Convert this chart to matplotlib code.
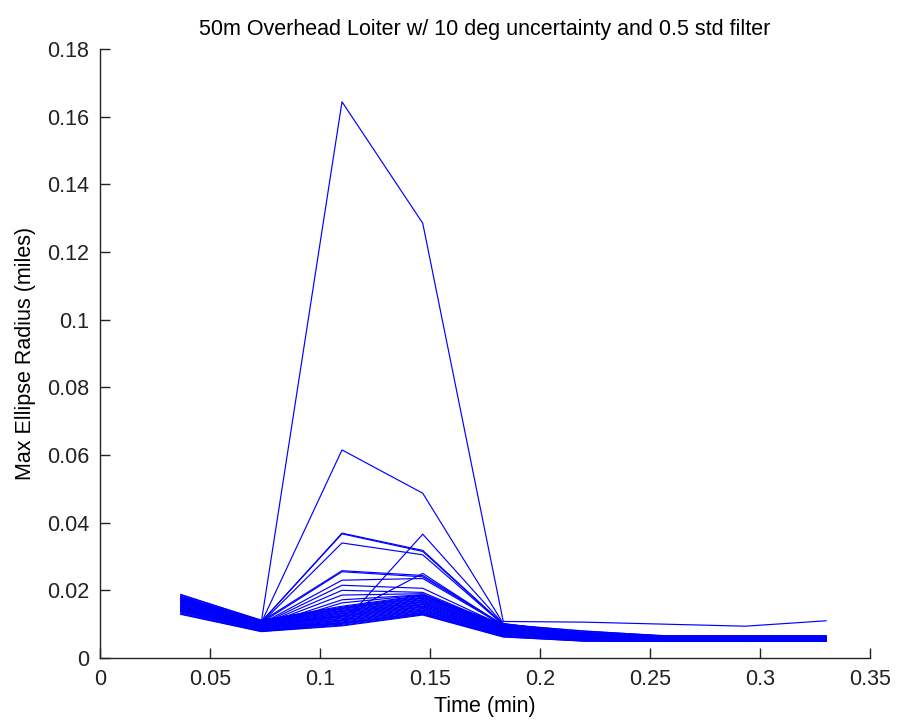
# Max ellipse radius vs time, 50m overhead loiter

import matplotlib.pyplot as plt

plt.rcParams['font.family'] = ['Liberation Sans', 'DejaVu Sans']

# sample times (min)
t = [0.0367, 0.0733, 0.11, 0.1467, 0.1833, 0.22, 0.2567, 0.2933, 0.33]

# runs that stick out above the main bundle
outliers = [
    [0.0150, 0.0105, 0.1644, 0.1285, 0.0108, 0.0106, 0.0100, 0.0094, 0.0110],
    [0.0162, 0.0104, 0.0615, 0.0487, 0.0102, 0.0072, 0.0062, 0.0062, 0.0062],
    [0.0172, 0.0106, 0.0369, 0.0318, 0.0100, 0.0070, 0.0061, 0.0061, 0.0061],
    [0.0175, 0.0107, 0.0367, 0.0315, 0.0099, 0.0069, 0.0060, 0.0060, 0.0060],
    [0.0168, 0.0103, 0.0340, 0.0305, 0.0098, 0.0070, 0.0061, 0.0061, 0.0061],
    [0.0146, 0.0096, 0.0100, 0.0366, 0.0101, 0.0072, 0.0062, 0.0062, 0.0062],
    [0.0140, 0.0098, 0.0125, 0.0250, 0.0096, 0.0068, 0.0060, 0.0060, 0.0060],
    [0.0178, 0.0108, 0.0258, 0.0244, 0.0098, 0.0071, 0.0062, 0.0062, 0.0062],
    [0.0170, 0.0104, 0.0255, 0.0240, 0.0097, 0.0069, 0.0061, 0.0061, 0.0061],
    [0.0165, 0.0101, 0.0230, 0.0235, 0.0096, 0.0068, 0.0060, 0.0060, 0.0060],
    [0.0160, 0.0099, 0.0215, 0.0206, 0.0095, 0.0067, 0.0059, 0.0059, 0.0059],
    [0.0155, 0.0097, 0.0200, 0.0194, 0.0094, 0.0066, 0.0058, 0.0058, 0.0058],
    [0.0150, 0.0095, 0.0186, 0.0190, 0.0093, 0.0066, 0.0058, 0.0058, 0.0058],
    [0.0145, 0.0093, 0.0172, 0.0187, 0.0092, 0.0065, 0.0057, 0.0057, 0.0057],
    [0.0139, 0.0090, 0.0163, 0.0186, 0.0090, 0.0064, 0.0056, 0.0056, 0.0056],
]

# the dense bundle of runs
band = [
    [0.0188, 0.0111, 0.0153, 0.0185, 0.0100, 0.0079, 0.0066, 0.0066, 0.0066],
    [0.0186, 0.0112, 0.0150, 0.0183, 0.0098, 0.0080, 0.0065, 0.0065, 0.0065],
    [0.0183, 0.0109, 0.0148, 0.0180, 0.0097, 0.0076, 0.0065, 0.0064, 0.0065],
    [0.0181, 0.0108, 0.0146, 0.0178, 0.0095, 0.0075, 0.0064, 0.0064, 0.0064],
    [0.0179, 0.0106, 0.0144, 0.0176, 0.0094, 0.0073, 0.0063, 0.0063, 0.0063],
    [0.0176, 0.0105, 0.0141, 0.0173, 0.0092, 0.0072, 0.0062, 0.0062, 0.0063],
    [0.0174, 0.0104, 0.0139, 0.0171, 0.0091, 0.0070, 0.0062, 0.0061, 0.0062],
    [0.0171, 0.0102, 0.0137, 0.0168, 0.0089, 0.0069, 0.0061, 0.0061, 0.0061],
    [0.0169, 0.0101, 0.0134, 0.0166, 0.0088, 0.0067, 0.0060, 0.0060, 0.0060],
    [0.0167, 0.0099, 0.0132, 0.0164, 0.0086, 0.0066, 0.0059, 0.0059, 0.0059],
    [0.0164, 0.0098, 0.0130, 0.0161, 0.0085, 0.0065, 0.0058, 0.0058, 0.0058],
    [0.0162, 0.0096, 0.0127, 0.0159, 0.0083, 0.0064, 0.0058, 0.0057, 0.0058],
    [0.0160, 0.0095, 0.0125, 0.0157, 0.0082, 0.0063, 0.0057, 0.0057, 0.0057],
    [0.0157, 0.0094, 0.0123, 0.0154, 0.0080, 0.0062, 0.0056, 0.0056, 0.0056],
    [0.0155, 0.0092, 0.0121, 0.0152, 0.0079, 0.0061, 0.0055, 0.0055, 0.0056],
    [0.0153, 0.0091, 0.0118, 0.0150, 0.0077, 0.0060, 0.0055, 0.0054, 0.0055],
    [0.0150, 0.0089, 0.0116, 0.0147, 0.0076, 0.0059, 0.0054, 0.0054, 0.0054],
    [0.0148, 0.0088, 0.0113, 0.0145, 0.0074, 0.0057, 0.0053, 0.0053, 0.0053],
    [0.0145, 0.0087, 0.0111, 0.0142, 0.0073, 0.0056, 0.0052, 0.0052, 0.0053],
    [0.0143, 0.0085, 0.0109, 0.0140, 0.0071, 0.0055, 0.0052, 0.0051, 0.0052],
    [0.0141, 0.0084, 0.0106, 0.0138, 0.0070, 0.0054, 0.0051, 0.0051, 0.0051],
    [0.0138, 0.0083, 0.0104, 0.0135, 0.0068, 0.0053, 0.0050, 0.0050, 0.0051],
    [0.0136, 0.0081, 0.0102, 0.0133, 0.0066, 0.0052, 0.0050, 0.0050, 0.0050],
    [0.0133, 0.0080, 0.0100, 0.0131, 0.0065, 0.0051, 0.0050, 0.0049, 0.0050],
    [0.0131, 0.0079, 0.0097, 0.0129, 0.0063, 0.0050, 0.0049, 0.0049, 0.0049],
    [0.0129, 0.0078, 0.0095, 0.0127, 0.0062, 0.0050, 0.0049, 0.0049, 0.0049],
]

xticks = [0, 0.05, 0.1, 0.15, 0.2, 0.25, 0.3, 0.35]
xticklabels = ['0', '0.05', '0.1', '0.15', '0.2', '0.25', '0.3', '0.35']
yticks = [0, 0.02, 0.04, 0.06, 0.08, 0.1, 0.12, 0.14, 0.16, 0.18]
yticklabels = ['0', '0.02', '0.04', '0.06', '0.08', '0.1', '0.12', '0.14', '0.16', '0.18']

fig = plt.figure(figsize=(9.01, 7.24), dpi=100)
ax = fig.add_axes([100 / 901, 66 / 724, 770 / 901, 609 / 724])

for row in band + outliers:
    ax.plot(t, row, color=(0, 0, 1), lw=0.85)

ax.set_xlim(0, 0.35)
ax.set_ylim(0, 0.18)
ax.set_xticks(xticks)
ax.set_xticklabels(xticklabels)
ax.set_yticks(yticks)
ax.set_yticklabels(yticklabels)
ax.tick_params(direction='in', length=7, width=1, labelsize=15.5, pad=8, colors='#222222')
ax.spines['top'].set_visible(False)
ax.spines['right'].set_visible(False)
for s in ['left', 'bottom']:
    ax.spines[s].set_linewidth(1)
    ax.spines[s].set_color('#222222')

ax.set_title('50m Overhead Loiter w/ 10 deg uncertainty and 0.5 std filter', fontsize=15.5, pad=10)
ax.set_xlabel('Time (min)', fontsize=15.5, labelpad=4)
ax.set_ylabel('Max Ellipse Radius (miles)', fontsize=15.5, labelpad=8)

fig.savefig('out.png', dpi=100)
